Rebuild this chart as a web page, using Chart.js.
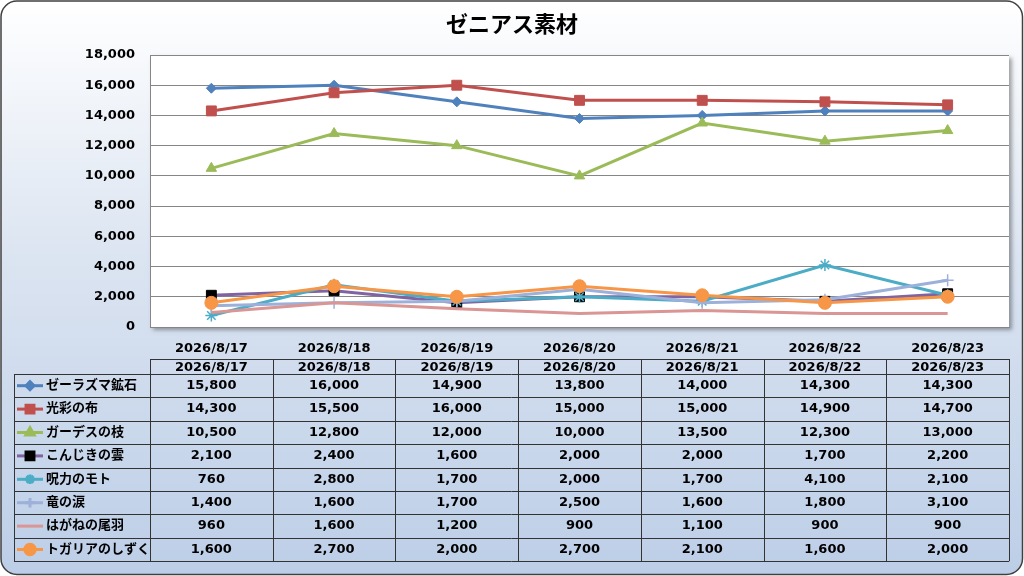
<!DOCTYPE html>
<html>
<head>
<meta charset="utf-8">
<script src="https://cdn.jsdelivr.net/npm/chart.js@4.4.0/dist/chart.umd.min.js"></script>
<style>
  html, body { margin: 0; padding: 0; background: #fff; }
  canvas { display: block; }
</style>
</head>
<body>
<canvas id="chart" width="1024" height="576"></canvas>
<script>
// Title
const chartTitle = 'ゼニアス素材';

// Categories
const dates = ['2026/8/17', '2026/8/18', '2026/8/19', '2026/8/20', '2026/8/21', '2026/8/22', '2026/8/23'];

// Series names
const seriesNames = ['ゼーラズマ鉱石', '光彩の布', 'ガーデスの枝', 'こんじきの雲', '呪力のモト', '竜の涙', 'はがねの尾羽', 'トガリアのしずく'];

// Series values
const zeraZumaOre   = [15800, 16000, 14900, 13800, 14000, 14300, 14300];
const kousaiCloth   = [14300, 15500, 16000, 15000, 15000, 14900, 14700];
const gardesBranch  = [10500, 12800, 12000, 10000, 13500, 12300, 13000];
const konjikiCloud  = [2100, 2400, 1600, 2000, 2000, 1700, 2200];
const juryokuMoto   = [760, 2800, 1700, 2000, 1700, 4100, 2100];
const ryuNoNamida   = [1400, 1600, 1700, 2500, 1600, 1800, 3100];
const haganeFeather = [960, 1600, 1200, 900, 1100, 900, 900];
const togariaDrop   = [1600, 2700, 2000, 2700, 2100, 1600, 2000];

// Y axis ticks
const yMin = 0, yMax = 18000, yStep = 2000;

// DejaVu for the wide latin digits, Noto CJK for the kana / kanji
const FONT = '"DejaVu Sans", "Noto Sans CJK JP", sans-serif';
Chart.defaults.font.family = FONT;
Chart.defaults.color = '#000';

function series(i, values, color, style) {
  return Object.assign({
    label: seriesNames[i],
    data: values,
    borderColor: color,
    backgroundColor: color,
    pointBackgroundColor: color,
    pointBorderColor: color,
    borderWidth: 3,
    pointBorderWidth: 1,
    tension: 0,
    order: seriesNames.length - i   // first series at the bottom, like Excel
  }, style);
}

const datasets = [
  series(0, zeraZumaOre,   '#4F81BD', { pointStyle: 'rectRot', pointRadius: 5 }),
  series(1, kousaiCloth,   '#C0504D', { pointStyle: 'rect', pointRadius: 7 }),
  series(2, gardesBranch,  '#9BBB59', { pointStyle: 'triangle', pointRadius: 6 }),
  series(3, konjikiCloud,  '#8064A2', { pointStyle: 'rect', pointRadius: 7, pointBackgroundColor: '#000', pointBorderColor: '#000' }),
  series(4, juryokuMoto,   '#4BACC6', { pointStyle: 'star', pointRadius: 6, pointBorderWidth: 1.5 }),
  series(5, ryuNoNamida,   '#9DB0DA', { pointStyle: 'cross', pointRadius: 6, pointBorderWidth: 1.5 }),
  series(6, haganeFeather, '#D99694', { pointStyle: 'circle', pointRadius: 0 }),
  series(7, togariaDrop,   '#F79646', { pointStyle: 'circle', pointRadius: 6.5 })
];

const fmt = v => v.toLocaleString('en-US');

// Background panel + plot area shadow
const backgroundPlugin = {
  id: 'panel',
  beforeDraw(chart) {
    const { ctx, width, height, chartArea } = chart;
    ctx.save();
    const g = ctx.createLinearGradient(0, 0, 0, height);
    g.addColorStop(0, '#ffffff');
    g.addColorStop(0.45, '#dbe4f1');
    g.addColorStop(1, '#bccee7');
    ctx.beginPath();
    ctx.roundRect(1, 1, width - 2.5, height - 2.5, 16);
    ctx.fillStyle = g;
    ctx.fill();
    ctx.lineWidth = 1.5;
    ctx.strokeStyle = '#404040';
    ctx.stroke();

    // plot area with soft shadow to the right / bottom
    ctx.shadowColor = 'rgba(0,0,0,0.35)';
    ctx.shadowBlur = 4;
    ctx.shadowOffsetX = 3;
    ctx.shadowOffsetY = 3;
    ctx.fillStyle = '#fff';
    ctx.fillRect(chartArea.left, chartArea.top, chartArea.right - chartArea.left, chartArea.bottom - chartArea.top);
    ctx.restore();

    // title, centred on the whole panel
    ctx.save();
    ctx.font = 'bold 22px "Noto Sans CJK JP", sans-serif';
    ctx.fillStyle = '#000';
    ctx.textAlign = 'center';
    ctx.textBaseline = 'middle';
    ctx.fillText(chartTitle, width / 2, 24);
    ctx.restore();
  }
};

// Data table under the chart, aligned on the x scale
const tablePlugin = {
  id: 'dataTable',
  afterDraw(chart) {
    const { ctx, chartArea } = chart;
    const x = chart.scales.x;
    const half = (x.getPixelForValue(1) - x.getPixelForValue(0)) / 2;
    const left = 14;
    const colLeft = chartArea.left;
    const right = x.getPixelForValue(dates.length - 1) + half;
    const headTop = 359, headBottom = 374, rowH = 23.4;
    const n = datasets.length;
    const bottom = headBottom + rowH * n;

    ctx.save();
    ctx.strokeStyle = '#333';
    ctx.lineWidth = 1;
    ctx.font = 'bold 13px ' + FONT;
    ctx.fillStyle = '#000';
    ctx.textBaseline = 'middle';

    // grid lines
    ctx.beginPath();
    ctx.moveTo(colLeft, headTop + 0.5); ctx.lineTo(right, headTop + 0.5);
    for (let r = 0; r <= n; r++) {
      const y = Math.round(headBottom + r * rowH) + 0.5;
      ctx.moveTo(left, y); ctx.lineTo(right, y);
    }
    ctx.moveTo(left + 0.5, headBottom); ctx.lineTo(left + 0.5, bottom);
    for (let c = 0; c <= dates.length; c++) {
      const cx = Math.round(colLeft + c * half * 2) + 0.5;
      ctx.moveTo(cx, headTop); ctx.lineTo(cx, bottom);
    }
    ctx.stroke();

    // header
    ctx.textAlign = 'center';
    dates.forEach((d, i) => {
      ctx.fillText(d, x.getPixelForValue(i), (headTop + headBottom) / 2 + 1);
    });

    // rows
    datasets.forEach((ds, r) => {
      const cy = headBottom + rowH * (r + 0.5);
      // legend key
      ctx.save();
      ctx.strokeStyle = ds.borderColor;
      ctx.lineWidth = 3;
      ctx.beginPath();
      ctx.moveTo(left + 3, cy); ctx.lineTo(left + 29, cy);
      ctx.stroke();
      if (ds.pointRadius > 0) {
        ctx.fillStyle = ds.pointBackgroundColor;
        ctx.strokeStyle = ds.pointBorderColor;
        Chart.helpers.drawPoint(ctx, {
          pointStyle: ds.pointStyle,
          radius: ds.pointRadius * 0.8,
          borderWidth: ds.pointBorderWidth,
          rotation: 0
        }, left + 16, cy);
      }
      ctx.restore();
      ctx.textAlign = 'left';
      ctx.fillText(ds.label, left + 32, cy);
      ctx.textAlign = 'center';
      ds.data.forEach((v, i) => ctx.fillText(fmt(v), x.getPixelForValue(i), cy));
    });
    ctx.restore();
  }
};

new Chart(document.getElementById('chart'), {
  type: 'line',
  data: { labels: dates, datasets: datasets },
  options: {
    responsive: false,
    animation: false,
    layout: { padding: { left: 0, right: 15, top: 55, bottom: 0 } },
    plugins: {
      legend: { display: false },
      tooltip: { enabled: false },
      title: { display: false }
    },
    scales: {
      x: {
        offset: true,
        grid: { display: false },
        border: { color: '#868686', width: 1 },
        ticks: { font: { size: 13, weight: 'bold' }, padding: 6, maxRotation: 0, autoSkip: false },
        afterFit(scale) { scale.height = 249; }
      },
      y: {
        min: yMin,
        max: yMax,
        grid: { color: '#868686', drawTicks: false },
        border: { color: '#868686', width: 1 },
        ticks: { stepSize: yStep, font: { size: 13, weight: 'bold' }, padding: 15, callback: v => fmt(v) },
        afterFit(scale) { scale.width = 150; }
      }
    }
  },
  plugins: [backgroundPlugin, tablePlugin]
});
</script>
</body>
</html>
